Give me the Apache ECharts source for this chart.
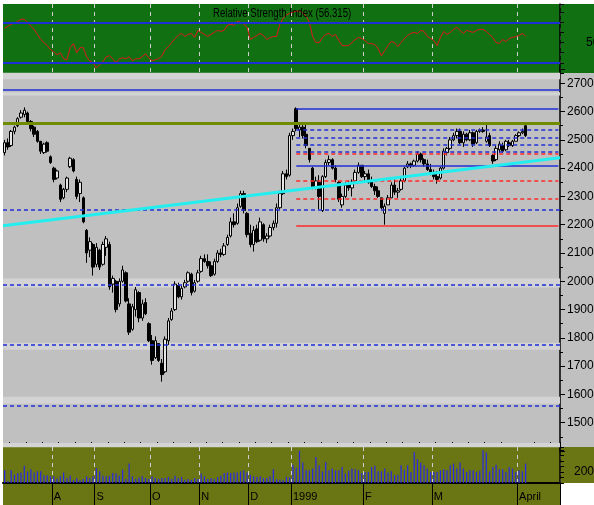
<!DOCTYPE html>
<html>
<head>
<meta charset="utf-8">
<script src="https://cdn.jsdelivr.net/npm/echarts@6/dist/echarts.min.js"></script>
<style>
  html, body { margin: 0; padding: 0; background: #fff; }
  #chart { width: 594px; height: 505px; }
</style>
</head>
<body>
<div id="chart"></div>
<script>
// trading days on the x axis (170 slots, 160 with data)
const dayCount = 170;
const monthIdx = [15, 28, 45, 60, 75, 88, 110, 131, 157];
const monthNames = ['A', 'S', 'O', 'N', 'D', '1999', 'F', 'M', 'April'];

// [open, close, low, high]
const candles = [
  [24550, 24900, 24450, 25000], [24900, 24750, 24650, 25050], [24800, 25300, 24750, 25350], [25300, 25450, 25200, 25500],
  [25500, 25750, 25450, 25800], [25800, 25950, 25750, 26050], [25900, 26050, 25800, 26150], [25950, 25650, 25550, 26000],
  [25650, 25400, 25300, 25700], [25450, 25200, 25100, 25500], [25300, 24950, 24900, 25350], [24950, 24600, 24500, 24950],
  [24550, 24850, 24500, 24900], [24900, 24600, 24550, 24950], [24400, 24200, 24150, 24450], [24000, 23600, 23500, 24050],
  [23650, 23900, 23600, 23950], [23400, 22900, 22800, 23450], [22950, 23250, 22900, 23300], [23250, 23650, 23150, 23700],
  [24050, 24350, 24000, 24400], [24300, 23900, 23850, 24350], [23600, 23000, 22900, 23700], [23100, 23500, 22800, 23600],
  [22950, 22100, 22050, 23000], [21800, 21000, 20650, 21850], [21100, 21400, 20850, 21550], [21300, 20500, 20200, 21350],
  [20600, 21200, 20500, 21350], [21100, 20500, 20400, 21150], [20600, 21300, 20550, 21400], [21200, 21500, 20900, 21600],
  [21300, 19800, 19700, 21400], [19900, 20100, 19600, 20200], [20000, 19000, 18900, 20050], [19200, 20000, 19100, 20100],
  [20000, 20400, 19950, 20550], [20300, 19300, 19250, 20350], [19200, 18200, 18100, 19400], [18300, 19100, 18250, 19200],
  [19000, 19700, 18750, 19800], [19600, 18700, 18550, 19650], [18700, 19200, 18600, 19350], [19250, 18850, 18800, 19400],
  [18500, 17900, 17850, 18550], [17900, 17200, 17050, 18100], [17300, 17900, 17250, 18050], [17800, 17200, 17150, 17800],
  [17100, 16700, 16450, 17250], [16800, 17950, 16750, 18050], [17900, 18600, 17750, 18700], [18650, 18950, 18600, 19050],
  [19000, 19900, 18950, 20000], [19850, 19450, 19400, 19950], [19450, 19750, 19350, 19850], [19800, 19950, 19750, 20050],
  [20000, 20300, 19950, 20350], [20250, 19600, 19500, 20300], [19650, 19950, 19600, 20050], [20000, 20300, 19950, 20400],
  [20350, 20800, 20300, 20900], [20800, 20700, 20650, 20950], [20700, 20550, 20450, 20950], [20550, 20200, 20150, 20700],
  [20250, 20700, 20200, 20800], [20700, 21000, 20650, 21100], [21000, 20950, 20850, 21150], [20950, 21250, 20900, 21350],
  [21300, 21550, 21250, 21650], [21600, 22100, 21550, 22250], [22100, 22000, 21900, 22400], [22050, 22600, 22000, 22750],
  [22650, 23100, 22600, 23200], [23100, 22500, 22400, 23200], [22400, 21650, 21550, 22450], [21700, 21300, 21200, 22000],
  [21300, 21800, 21050, 21950], [21850, 21400, 21350, 22000], [21450, 22100, 21400, 22250], [22000, 21500, 21400, 22050],
  [21500, 21600, 21350, 21700], [21600, 21900, 21550, 22000], [21900, 22050, 21800, 22150], [22050, 22600, 21900, 22750],
  [22600, 23100, 22550, 23200], [23100, 23800, 23050, 23900], [23800, 23700, 23600, 23950], [23750, 25150, 23700, 25250],
  [25150, 25300, 25000, 25400], [26100, 25400, 25300, 26150], [25350, 25450, 25100, 25600], [25450, 25150, 25050, 25550],
  [25200, 24800, 24700, 25550], [24700, 24300, 24200, 24650], [24000, 23300, 23250, 24050], [23350, 23550, 23250, 23700],
  [23500, 23000, 22550, 23750], [22500, 23700, 22450, 23750], [23700, 24200, 23650, 24300], [24200, 24300, 24100, 24450],
  [24300, 24000, 23950, 24350], [24000, 23600, 23500, 24100], [23500, 22900, 22800, 23550], [22700, 23000, 22600, 23100],
  [23000, 23400, 22950, 23500], [23400, 23300, 23200, 23550], [23300, 23500, 23000, 23600], [23550, 23850, 23500, 23950],
  [23850, 24100, 23800, 24200], [24100, 23700, 23650, 24100], [23700, 23800, 23500, 23900], [23800, 23500, 23450, 23950],
  [23550, 23350, 23300, 23700], [23350, 23200, 23050, 23450], [23200, 23000, 22950, 23350], [22950, 22600, 22550, 22950],
  [22400, 22650, 22000, 22750], [22700, 22950, 22700, 23050], [22950, 23400, 22950, 23500], [23400, 23150, 23050, 23600],
  [23150, 23200, 22950, 23300], [23250, 23550, 23200, 23650], [23550, 24000, 23500, 24050], [24050, 24150, 24000, 24250],
  [24150, 24100, 24000, 24200], [24100, 24250, 24050, 24300], [24250, 24500, 24200, 24600], [24500, 24300, 24200, 24550],
  [24300, 24150, 24050, 24350], [24150, 23950, 23900, 24300], [23950, 23850, 23750, 24150], [23850, 23700, 23600, 23950],
  [23700, 23600, 23450, 23900], [23650, 24000, 23600, 24050], [24000, 24600, 23950, 24700], [24550, 24700, 24450, 24750],
  [24700, 25000, 24650, 25100], [25000, 25150, 24950, 25250], [25150, 25300, 25050, 25400], [25300, 24900, 24850, 25400],
  [24900, 25200, 24750, 25300], [25200, 25000, 24950, 25250], [25000, 25250, 24950, 25350], [25250, 24850, 24750, 25300],
  [24900, 25300, 24850, 25350], [25300, 25350, 25250, 25400], [25350, 25300, 25250, 25450], [24950, 25100, 24900, 25550],
  [25150, 24800, 24750, 25250], [24450, 24250, 24150, 24500], [24300, 24700, 24250, 24800], [24650, 24850, 24550, 24950],
  [24800, 24600, 24550, 24900], [24650, 24950, 24600, 25000], [24900, 24800, 24750, 25000], [24800, 24950, 24750, 25000],
  [24950, 25150, 24950, 25200], [25150, 25250, 25100, 25300], [25250, 25300, 25200, 25400], [25500, 25150, 25100, 25600]
];

const volume = [
  2300, 300, 2300, 1500, 1800, 1900, 3100, 2100, 2500, 1900,
  2100, 2100, 1400, 1400, 1200, 1200, 800, 1200, 1900, 900,
  1300, 500, 900, 500, 700, 1200, 900, 1200, 2700, 2100,
  1300, 1200, 1300, 1800, 1700, 1300, 2400, 700, 3500, 1200,
  700, 1000, 1200, 900, 700, 1200, 900, 700, 900, 900,
  1100, 700, 1300, 900, 1100, 600, 700, 600, 900, 700,
  1700, 1200, 700, 900, 700, 1100, 1300, 1800, 1900, 1800,
  1900, 1900, 2100, 2300, 1900, 1500, 1200, 1100, 1200, 900,
  900, 1200, 2500, 700, 600, 500, 1100, 1100,
  3300, 2800, 5800, 3700, 2400, 2300, 2600, 4700, 3200, 2100,
  3800, 2300, 2600, 2300, 2300, 2900, 1700, 2200, 2600, 2500,
  2300, 1800, 2000, 2000, 2900, 3100, 2100, 2100, 2600, 1900,
  2100, 1400, 1500, 3200, 2400, 3200, 2000, 5600, 4300, 3700,
  3200, 2600, 2000, 2000, 2000, 2300, 2500, 2300, 3200, 3500,
  2600, 3700, 2600, 2000, 2300, 2300, 2000, 2200, 5900, 5500,
  2100, 2900, 3300, 2500, 2500, 2000, 2900, 2600, 2000, 2300,
  2100, 3500
];

const rsi = [
  64, 66, 68, 69, 71, 73, 73, 70, 66, 63, 58, 53, 50, 47, 43, 41, 38, 40, 34, 33,
  45, 49, 40, 45, 45, 36, 32, 30, 25, 28, 31, 36, 37, 34, 30, 34, 35, 34, 36, 32,
  34, 34, 36, 39, 35, 32, 33, 34, 37, 43, 46, 50, 54, 57, 59, 56, 58, 59, 55, 62,
  60, 58, 56, 58, 60, 62, 61, 62, 67, 68, 67, 71, 70, 68, 65, 53, 55, 57, 59, 57,
  53, 55, 56, 56, 68, 74, 77, 79, 80, 81, 81, 79, 76, 70, 56, 50, 50, 55, 58, 59,
  56, 58, 52, 47, 47, 47, 50, 53, 55, 54, 52, 49, 49, 48, 44, 37, 42, 47, 51, 50,
  46, 50, 54, 57, 59, 60, 59, 62, 61, 56, 54, 52, 47, 55, 61, 58, 60, 63, 65, 62,
  59, 62, 61, 60, 62, 63, 63, 61, 58, 55, 50, 49, 53, 51, 54, 55, 56, 57, 59, 56.3
];
const rsiLevels = [70, 30];

// horizontal levels on the price panel
const solidBlueFull = [26760];
const oliveFull = [25590];
const dashBlueFull = [22520, 19890, 17740, 15600];
const solidBluePart = [26110, 24080];
const dashBluePart = [25370, 25080, 24840, 24570];
const dashRedPart = [24520, 23570, 22920];
const solidRedPart = [21950];
const partStart = 89;
const trendLine = [[-0.5, 21965], [169.5, 24370]];
const lightBands = [[27140, 27370], [26570, 26680], [19780, 20100], [17580, 17830], [15670, 15920], [14130, 14280]];

const days = Array.from({ length: dayCount }, (_, i) => String(i));
const isMonth = (i) => monthIdx.indexOf(i) >= 0;
const font = "'Liberation Sans', Arial, sans-serif";
const green = '#107012';
const olive = '#6a7513';
const gray = '#c0c0c0';
const blue = '#1f2fd6';
const red = '#ff2a2a';

const hLine = (v, color, type, width) => ({ yAxis: v, lineStyle: { color, type, width } });
const partLine = (v, color, type, width) => [
  { coord: [partStart, v], lineStyle: { color, type, width } },
  { coord: [dayCount - 1, v] }
];
const rightAxis = (extra) => Object.assign({
  type: 'value', position: 'right',
  axisLine: { show: true, onZero: false, lineStyle: { color: '#000', width: 1.5 } },
  axisTick: { show: true, length: 4, lineStyle: { color: '#000' } },
  splitLine: { show: false }
}, extra);

const chart = echarts.init(document.getElementById('chart'));

chart.setOption({
  animation: false,
  backgroundColor: '#ffffff',
  graphic: [
    { type: 'rect', z: -10, silent: true, shape: { x: 3, y: 4, width: 591, height: 69 }, style: { fill: green } },
    { type: 'rect', z: -10, silent: true, shape: { x: 3, y: 73, width: 591, height: 374 }, style: { fill: gray } },
    { type: 'rect', z: -10, silent: true, shape: { x: 3, y: 447, width: 591, height: 36 }, style: { fill: olive } },
    { type: 'rect', z: -10, silent: true, shape: { x: 3, y: 483, width: 557, height: 22 }, style: { fill: olive } },
    {
      type: 'text', x: 213, y: 8, scaleX: 0.8, z: 10, silent: true,
      style: { text: 'Relative Strength Index (56.315)', font: '12px ' + font, fill: '#000' }
    }
  ],
  grid: [
    { left: 3, top: 4, width: 557, height: 69, outerBoundsMode: 'none' },
    { left: 3, top: 69.16, width: 557, height: 381.78, outerBoundsMode: 'none' },
    { left: 3, top: 447, width: 557, height: 36, outerBoundsMode: 'none' }
  ],
  xAxis: [
    {
      type: 'category', gridIndex: 0, data: days,
      axisLine: { show: false }, axisTick: { show: false }, axisLabel: { show: false },
      splitLine: { show: true, interval: isMonth, lineStyle: { color: '#d0d0d0', type: [4, 4], width: 1 } }
    },
    { type: 'category', gridIndex: 1, data: days, show: false },
    { type: 'value', gridIndex: 1, min: -0.5, max: dayCount - 0.5, show: false },
    {
      type: 'category', gridIndex: 2, data: days,
      axisLine: { show: true, onZero: false, lineStyle: { color: '#000', width: 2 } },
      axisTick: { show: true, interval: isMonth, length: 22, lineStyle: { color: '#000', width: 1 } },
      axisLabel: {
        show: true, interval: isMonth, align: 'left', margin: 8,
        color: '#000', fontSize: 11, fontFamily: font,
        formatter: (v, i) => monthNames[monthIdx.indexOf(i)] || ''
      },
      splitLine: { show: true, interval: isMonth, lineStyle: { color: '#d0d0d0', type: [4, 4], width: 1 } }
    },
    {
      type: 'category', gridIndex: 2, data: days,
      axisLine: { show: false, onZero: false }, axisLabel: { show: false },
      axisTick: { show: true, interval: (i) => i % 5 === 2 && !isMonth(i), length: 5, lineStyle: { color: '#000' } }
    }
  ],
  yAxis: [
    rightAxis({
      gridIndex: 0, min: 20, max: 88, interval: 10,
      axisLabel: { margin: 26, color: '#000', fontSize: 12, fontFamily: font, formatter: (v) => (v === 50 ? '50' : '') }
    }),
    rightAxis({
      gridIndex: 1, min: 14000, max: 27500, interval: 1000,
      axisTick: { show: true, length: 5, lineStyle: { color: '#000' } },
      minorTick: { show: true, splitNumber: 2, length: 3, lineStyle: { color: '#000' } },
      axisLabel: {
        margin: 7, color: '#000', fontSize: 12, fontFamily: font,
        formatter: (v) => (v >= 15000 && v <= 27000 && v % 1000 === 0 ? String(v) : '')
      }
    }),
    rightAxis({
      gridIndex: 2, min: 0, max: 6500, interval: 1000,
      axisLabel: { margin: 14, color: '#000', fontSize: 12, fontFamily: font, formatter: (v) => (v === 2000 ? '2000' : '') }
    })
  ],
  series: [
    {
      name: 'RSI', type: 'line', xAxisIndex: 0, yAxisIndex: 0, data: rsi,
      showSymbol: false, lineStyle: { color: '#e01a1a', width: 1 },
      markLine: {
        silent: true, symbol: 'none', label: { show: false },
        data: rsiLevels.map((v) => hLine(v, blue, 'solid', 2))
      }
    },
    {
      name: 'Price', type: 'candlestick', xAxisIndex: 1, yAxisIndex: 1, data: candles,
      barWidth: 3,
      itemStyle: { color: '#e6e6e6', color0: '#000', borderColor: '#000', borderColor0: '#000', borderWidth: 1 },
      markArea: {
        silent: true, itemStyle: { color: '#d3d3d3' },
        data: lightBands.map((b) => [{ yAxis: b[0] }, { yAxis: b[1] }])
      },
      markLine: {
        silent: true, symbol: 'none', label: { show: false },
        data: [
          ...solidBlueFull.map((v) => hLine(v, blue, 'solid', 1.5)),
          ...oliveFull.map((v) => hLine(v, '#6f8c00', 'solid', 3)),
          ...dashBlueFull.map((v) => hLine(v, blue, [4, 3], 1.5)),
          ...solidBluePart.map((v) => partLine(v, blue, 'solid', 1.5)),
          ...dashBluePart.map((v) => partLine(v, blue, [4, 3], 1.5)),
          ...dashRedPart.map((v) => partLine(v, red, [4, 3], 1.5)),
          ...solidRedPart.map((v) => partLine(v, red, 'solid', 1.5))
        ]
      }
    },
    {
      name: 'Trend', type: 'line', xAxisIndex: 2, yAxisIndex: 1, data: trendLine,
      showSymbol: false, z: 5, lineStyle: { color: '#22eef0', width: 3 }
    },
    {
      name: 'Volume', type: 'bar', xAxisIndex: 3, yAxisIndex: 2, data: volume,
      barWidth: 1.2, itemStyle: { color: '#2a2ae6' }
    }
  ]
});

window.addEventListener('resize', () => chart.resize());
</script>
</body>
</html>
